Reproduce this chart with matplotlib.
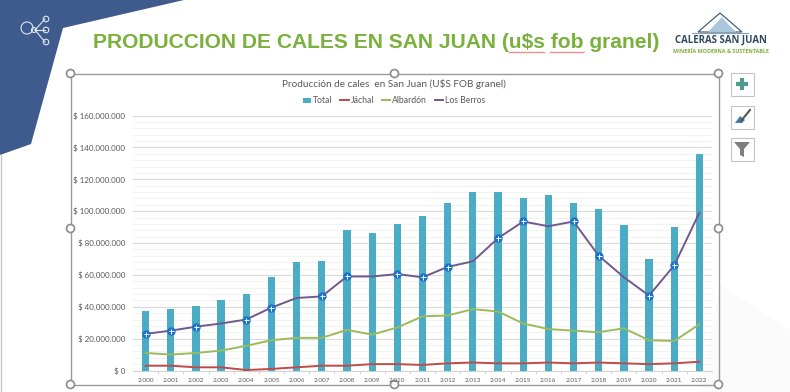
import numpy as np
from matplotlib import pyplot as plt
from matplotlib.patches import Polygon, Circle, Rectangle
from matplotlib.ticker import FuncFormatter, MultipleLocator

plt.rcParams['font.family'] = ['Lato', 'DejaVu Sans']

years = ['2.000', '2.001', '2.002', '2.003', '2.004', '2.005', '2.006', '2.007',
         '2.008', '2.009', '2.010', '2.011', '2.012', '2.013', '2.014', '2.015',
         '2.016', '2.017', '2.018', '2.019', '2.020', '2.021', '2.022']
total = [37.5, 38.5, 40.5, 44.5, 48, 58.5, 68, 69, 88, 86, 92, 97, 105, 112, 112,
         108.5, 110, 105, 101.5, 91, 70, 90, 136]
jachal = [3, 3, 2, 2, 0.3, 1, 2, 3, 3, 4, 4, 3.5, 4.5, 5, 4.5, 4.5, 5, 4.5, 5,
          4.5, 4, 4.5, 5.5]
albardon = [11, 10, 11, 12.5, 15.5, 19, 20.5, 20.5, 25.5, 22.5, 27, 34, 34.5, 38.5,
            37, 29.5, 26, 25, 24, 26.5, 19, 18.5, 29]
berros = [23, 25, 27.5, 29.5, 32, 39.5, 45.5, 46.5, 59, 59, 60.5, 58.5, 65, 68.5,
          83, 93.5, 90.5, 93.5, 72, 58.5, 47, 66, 99]
selected = [0, 1, 2, 4, 5, 7, 8, 10, 11, 12, 14, 15, 17, 18, 20, 21]

GREEN = '#7ab13c'
NAVY = '#3f5a8c'
GREY = '#595959'

fig = plt.figure(figsize=(7.9, 3.92), dpi=100)

# slide background, drawn in pixels
bg = fig.add_axes([0, 0, 1, 1])
bg.set_xlim(0, 790)
bg.set_ylim(392, 0)
bg.axis('off')
bg.add_patch(Polygon([(700, 392), (790, 392), (790, 330), (720, 285)], color='#fbfbfb', lw=0))
bg.add_patch(Polygon([(0, 0), (184, 0), (63, 28), (31, 144), (0, 155)], color=NAVY, lw=0))
bg.plot([0.5, 0.5], [155, 392], color='#c8c8c8', lw=1)

# network icon
for y in [19, 30, 42]:
    bg.plot([35, 45], [30, y], color='#dfe6f2', lw=0.8)
    bg.add_patch(Circle((46, y), 2.8, fc=NAVY, ec='#dfe6f2', lw=0.8))
bg.add_patch(Circle((34, 30), 2.5, fc=NAVY, ec='#dfe6f2', lw=0.8))
bg.add_patch(Circle((27, 28), 6, fc='none', ec='#dfe6f2', lw=0.8))

bg.text(376, 42, 'PRODUCCION DE CALES EN SAN JUAN (u\\$s fob granel)', color=GREEN,
        fontsize=15.1, fontweight='bold', family='Liberation Sans', ha='center', va='center')

# spell check underlines
for x0, x1 in [(509, 545), (550, 584)]:
    xs = np.arange(x0, x1 + 1, 1.5)
    ys = 52.5 + 0.6 * (-1.0) ** np.arange(len(xs))
    bg.plot(xs, ys, color='#d9534f', lw=0.5)

# logo
bg.add_patch(Polygon([(698, 32), (720, 13), (742, 32)], fc='white', ec='#33506e', lw=0.8))
bg.add_patch(Polygon([(708, 32), (722, 17), (728, 24), (736, 32)], fc='#a9c6dc', lw=0))
bg.plot([692, 748], [33, 33], color='#8aa0b5', lw=0.8)
bg.text(721, 40.5, 'CALERAS SAN JUAN', color='#2f4a66', fontsize=6.9, fontweight='bold',
        family='Open Sans', ha='center', va='center')
bg.text(721, 51, 'MINERÍA MODERNA & SUSTENTABLE', color=GREEN, fontsize=3.9, fontweight='bold',
        family='Open Sans', ha='center', va='center')

# chart frame and handles
bg.add_patch(Rectangle((70.5, 73.5), 648, 311, fill=False, ec='#9a9a9a', lw=1))
for hx in [70.5, 394.5, 718.5]:
    for hy in [73.5, 228.5, 384.5]:
        if hx == 394.5 and hy == 228.5:
            continue
        bg.add_patch(Circle((hx, hy), 4, fc='white', ec='#8c8c8c', lw=1.2, zorder=5))

# side buttons
for top in [72, 105, 137]:
    bg.add_patch(Rectangle((730.5, top + 0.5), 23, 23, fc='white', ec='#c4c4c4', lw=0.8))
bg.plot([742, 742], [78, 90], color='#4f9a8c', lw=3, solid_capstyle='butt')
bg.plot([736, 748], [84, 84], color='#4f9a8c', lw=3, solid_capstyle='butt')
bg.plot([741, 750], [121, 110], color='#555555', lw=1.5)
bg.add_patch(Polygon([(735, 123), (740, 116), (745, 120), (742, 123)], color='#3f7fa8', lw=0))
bg.add_patch(Polygon([(734, 142), (750, 142), (744, 149), (744, 157), (740, 155), (740, 149)],
                     color='#7f7f7f', lw=0))

# chart
ax = fig.add_axes([133 / 790, 1 - 370.5 / 392, 579 / 790, 255 / 392])
ax.patch.set_alpha(0)
x = np.arange(len(years))
bars = ax.bar(x, total, width=0.29, color='#4bacc6', label='Total', zorder=3)
l1, = ax.plot(x, jachal, color='#be4b48', lw=1.4, label='Jáchal', zorder=4)
l2, = ax.plot(x, albardon, color='#9bbb59', lw=1.4, label='Albardón', zorder=4)
l3, = ax.plot(x, berros, color='#71588f', lw=1.4, label='Los Berros', zorder=4)
sel_x = [x[i] for i in selected]
sel_y = [berros[i] for i in selected]
ax.plot(sel_x, sel_y, ls='none', marker='o', ms=5, mfc='#1a73c9', mec='#1a73c9', zorder=5)
ax.plot(sel_x, sel_y, ls='none', marker='+', ms=3.6, mew=0.7, color='white', zorder=6)

ax.set_xlim(-0.5, len(years) - 0.5)
ax.set_ylim(0, 160)
ax.yaxis.set_major_locator(MultipleLocator(20))
ax.yaxis.set_minor_locator(MultipleLocator(4))
ax.yaxis.set_major_formatter(FuncFormatter(
    lambda v, p: r'\$ 0' if v == 0 else r'\$ {:.0f}.000.000'.format(v)))
ax.grid(axis='y', which='major', color='#dadada', lw=0.8, zorder=0)
ax.grid(axis='y', which='minor', color='#f0f0f0', lw=0.6, zorder=0)
ax.set_xticks(x)
ax.set_xticklabels(years, fontsize=4.6, color=GREY)
ax.set_xticks(x[:-1] + 0.5, minor=True)
ax.tick_params(axis='x', which='major', length=0, pad=5.5)
ax.tick_params(axis='x', which='minor', length=2.5, color='#d0d0d0', width=0.6)
ax.tick_params(axis='y', which='both', length=0, labelsize=5.8, labelcolor=GREY, pad=5.5)
for s in ['top', 'left', 'right']:
    ax.spines[s].set_visible(False)
ax.spines['bottom'].set_color('#d0d0d0')
ax.spines['bottom'].set_linewidth(0.7)

ax.legend([bars, l1, l2, l3], ['Total', 'Jáchal', 'Albardón', 'Los Berros'],
          loc='center', bbox_to_anchor=((394 - 133) / 579, 1.058), ncol=4, frameon=False,
          fontsize=6.2, labelcolor=GREY, handlelength=1.0, handleheight=0.5,
          columnspacing=0.9, handletextpad=0.2)
bg.text(394, 83.5, 'Producción de cales  en San Juan (U\\$S FOB granel)', color=GREY,
        fontsize=7.2, ha='center', va='center')

fig.savefig('out.png', dpi=100)
